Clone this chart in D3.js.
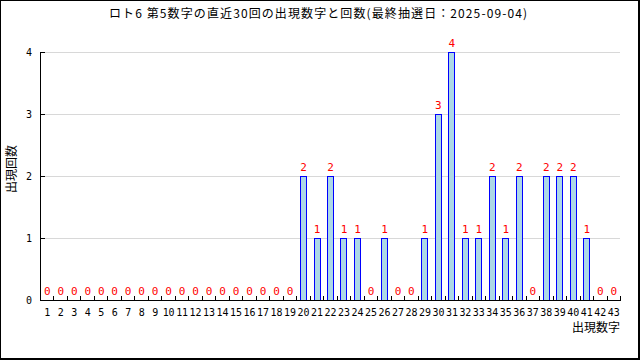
<!DOCTYPE html>
<html>
<head>
<meta charset="utf-8">
<script src="https://cdn.jsdelivr.net/npm/d3@7"></script>
<style>
  body { margin: 0; background: #fff; }
  svg { display: block; }
  text { font-family: "DejaVu Sans Mono", monospace; }
</style>
</head>
<body>
<svg id="chart" width="640" height="360"></svg>
<script>
// 出現数字 1..43 と回数
const numbers = d3.range(1, 44);
const counts = [
  0, 0, 0, 0, 0, 0, 0, 0, 0, 0,
  0, 0, 0, 0, 0, 0, 0, 0, 0, 2,
  1, 2, 1, 1, 0, 1, 0, 0, 1, 3,
  4, 1, 1, 2, 1, 2, 0, 2, 2, 2,
  1, 0, 0
];
const yTicks = [0, 1, 2, 3, 4];
const title = "ロト6 第5数字の直近30回の出現数字と回数(最終抽選日：2025-09-04)";

const svg = d3.select("#chart");
const plotLeft = 40, plotRight = 620, plotTop = 52, plotBottom = 300;

// 枠
svg.append("rect").attr("x", 0.5).attr("y", 0.5).attr("width", 638).attr("height", 358)
  .attr("fill", "none").attr("stroke", "#000").attr("stroke-width", 1);
svg.append("line").attr("x1", 639).attr("x2", 639).attr("y1", 0).attr("y2", 360).attr("stroke", "#000").attr("stroke-width", 2);
svg.append("line").attr("x1", 0).attr("x2", 640).attr("y1", 359).attr("y2", 359).attr("stroke", "#000").attr("stroke-width", 2);

const x = d3.scaleBand().domain(numbers).range([plotLeft, plotRight]);
const y = d3.scaleLinear().domain([0, 4]).range([plotBottom, plotTop]);

// グリッド
svg.append("g").selectAll("line").data(yTicks.filter(d => d > 0)).join("line")
  .attr("x1", plotLeft + 1).attr("x2", plotRight)
  .attr("y1", d => Math.round(y(d)) + 0.5).attr("y2", d => Math.round(y(d)) + 0.5)
  .attr("stroke", "#d8d8d8").attr("stroke-width", 1);

// 棒
svg.append("g").selectAll("rect").data(numbers.filter((d, i) => counts[i] > 0)).join("rect")
  .attr("x", d => Math.round(x(d) + x.bandwidth() / 2 - 3) + 0.5)
  .attr("y", d => Math.round(y(counts[d - 1])) + 0.5)
  .attr("width", 6)
  .attr("height", d => plotBottom - Math.round(y(counts[d - 1])))
  .attr("fill", "#add8e6").attr("stroke", "#0000ff").attr("stroke-width", 1);

// 値ラベル
svg.append("g").selectAll("text").data(numbers).join("text")
  .attr("x", d => x(d) + x.bandwidth() / 2 + 0.5)
  .attr("y", d => y(counts[d - 1]) - 5)
  .attr("text-anchor", "middle")
  .attr("font-size", 11)
  .attr("fill", "#ff0000")
  .text(d => counts[d - 1]);

// Y軸
const yAxis = svg.append("g");
yAxis.append("line").attr("x1", plotLeft + 0.5).attr("x2", plotLeft + 0.5).attr("y1", plotTop).attr("y2", plotBottom + 1)
  .attr("stroke", "#000");
yAxis.selectAll(".tick").data(yTicks).join("line")
  .attr("x1", plotLeft).attr("x2", plotLeft + 5)
  .attr("y1", d => Math.round(y(d)) + 0.5).attr("y2", d => Math.round(y(d)) + 0.5)
  .attr("stroke", "#000");
yAxis.selectAll("text").data(yTicks).join("text")
  .attr("x", 29).attr("y", d => y(d) + 4)
  .attr("text-anchor", "middle").attr("font-size", 10).attr("fill", "#000")
  .text(d => d);

// X軸
const xAxis = svg.append("g");
xAxis.append("line").attr("x1", plotLeft).attr("x2", plotRight + 1).attr("y1", plotBottom + 0.5).attr("y2", plotBottom + 0.5)
  .attr("stroke", "#000");
xAxis.selectAll(".tick").data(numbers.slice(1).concat([44])).join("line")
  .attr("x1", d => Math.round(d === 44 ? plotRight : x(d)) + 0.5)
  .attr("x2", d => Math.round(d === 44 ? plotRight : x(d)) + 0.5)
  .attr("y1", plotBottom).attr("y2", plotBottom - 4)
  .attr("stroke", "#000");
xAxis.selectAll("text").data(numbers).join("text")
  .attr("x", d => x(d) + x.bandwidth() / 2 + 0.5)
  .attr("y", 316)
  .attr("text-anchor", "middle").attr("font-size", 10).attr("fill", "#000")
  .attr("textLength", d => d >= 10 ? 12 : null)
  .attr("lengthAdjust", "spacingAndGlyphs")
  .text(d => d);

// 軸タイトル
svg.append("text").attr("x", plotRight).attr("y", 332)
  .attr("text-anchor", "end").attr("font-size", 12).attr("fill", "#000")
  .style("font-family", "'Noto Sans CJK JP', sans-serif")
  .text("出現数字");
svg.append("text").attr("transform", "translate(16,169) rotate(-90)")
  .attr("text-anchor", "middle").attr("font-size", 12).attr("fill", "#000")
  .style("font-family", "'Noto Sans CJK JP', sans-serif")
  .text("出現回数");

// タイトル
svg.append("text").attr("x", 318).attr("y", 18)
  .attr("text-anchor", "middle").attr("font-size", 12).attr("fill", "#000")
  .attr("textLength", 418).attr("lengthAdjust", "spacing")
  .style("font-family", "'Noto Sans CJK JP', sans-serif")
  .text(title);
</script>
</body>
</html>
